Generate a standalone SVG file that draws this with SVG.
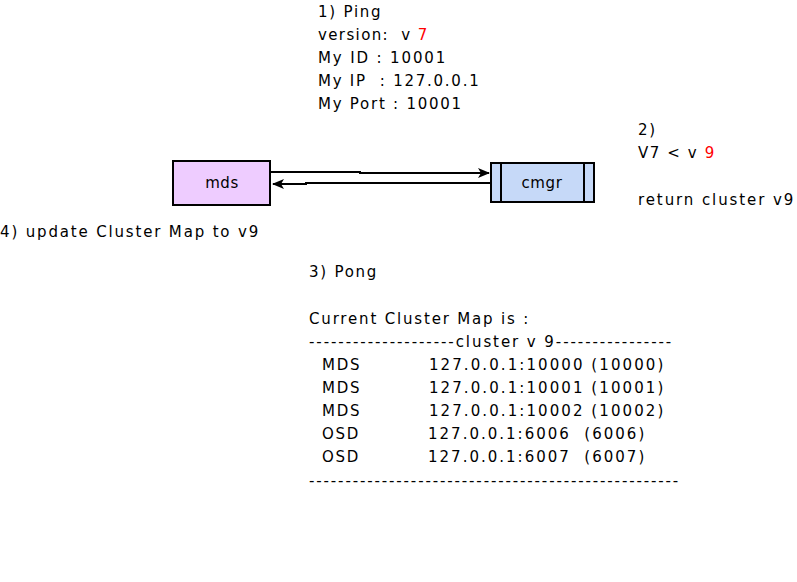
<svg xmlns="http://www.w3.org/2000/svg" width="797" height="582" viewBox="0 0 797 582">
<style>
text{font-family:"DejaVu Sans",Verdana,sans-serif;font-size:15px;fill:#000;letter-spacing:1.75px;white-space:pre}
.c{letter-spacing:0.6px}
.red{fill:#ff0000}
.box{stroke:#000;stroke-width:2}
.edge{fill:none;stroke:#000;stroke-width:2}
</style>
<defs>
<marker id="arr" markerWidth="12" markerHeight="10" refX="11" refY="5" orient="auto" markerUnits="userSpaceOnUse">
<path d="M0,0 L12,5 L0,10 L3,5 Z" fill="#000"/>
</marker>
</defs>
<rect width="797" height="582" fill="#fff"/>
<g id="connectors">
<path class="edge" d="M271,172 L360,172 L360,173 L489,173" marker-end="url(#arr)"/>
<path class="edge" d="M491,183 L306,183 L306,184 L273,184" marker-end="url(#arr)"/>
</g>
<g id="mds">
<rect class="box" x="173" y="161" width="97" height="44" fill="#eeccff"/>
<text class="c" x="222" y="188" text-anchor="middle">mds</text>
</g>
<g id="cmgr">
<rect class="box" x="491" y="163" width="103" height="39" fill="#c6d9f8"/>
<line class="box" x1="501" y1="163" x2="501" y2="202"/>
<line class="box" x1="584" y1="163" x2="584" y2="202"/>
<text class="c" x="542" y="188" text-anchor="middle">cmgr</text>
</g>
<g id="label-ping">
<text x="318" y="17">1) Ping</text>
<text x="318" y="40" textLength="111">version:  v <tspan class="red">7</tspan></text>
<text x="318" y="63" textLength="129">My ID : 10001</text>
<text x="318" y="86">My IP  : 127.0.0.1</text>
<text x="318" y="109">My Port : 10001</text>
</g>
<g id="label-check">
<text x="638" y="135">2)</text>
<text x="638" y="158" textLength="78">V7 &lt; v <tspan class="red">9</tspan></text>
<text x="638" y="205" textLength="157">return cluster v9</text>
</g>
<g id="label-update">
<text x="0" y="237" textLength="260">4) update Cluster Map to v9</text>
</g>
<g id="label-pong">
<text x="309" y="277">3) Pong</text>
<text x="309" y="324" textLength="221">Current Cluster Map is :</text>
<text x="309" y="347" textLength="364">--------------------cluster v 9----------------</text>
<text x="309" y="370">  MDS</text><text x="429" y="370" textLength="236">127.0.0.1:10000 (10000)</text>
<text x="309" y="393">  MDS</text><text x="429" y="393" textLength="236">127.0.0.1:10001 (10001)</text>
<text x="309" y="416">  MDS</text><text x="429" y="416" textLength="236">127.0.0.1:10002 (10002)</text>
<text x="309" y="439">  OSD</text><text x="428" y="439" textLength="218">127.0.0.1:6006  (6006)</text>
<text x="309" y="462">  OSD</text><text x="428" y="462" textLength="218">127.0.0.1:6007  (6007)</text>
<text x="309" y="486" textLength="371">---------------------------------------------------</text>
</g>
</svg>
